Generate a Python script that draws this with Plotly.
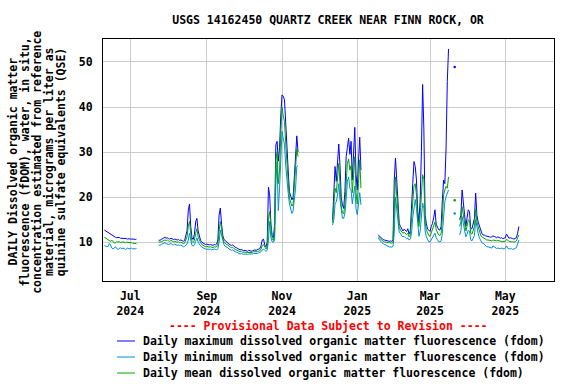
import plotly.graph_objects as go
import pandas as pd

# ---------------- data (daily values, fDOM, QSE) ----------------
BASE_DATE = "2024-06-10"   # day index 0

seg1_start = 0
seg1_max = [12.7, 12.5, 12.3, 12.1, 11.9, 11.7, 11.5, 11.4, 11.2, 11.1, 11.0, 11.0, 11.1, 10.9,
            10.9, 10.8, 10.8, 10.9, 10.8, 10.7, 10.8, 10.7, 10.7, 10.8, 10.7, 10.6, 10.7]
seg1_mean = [11.1, 10.9, 10.6, 10.4, 10.3, 10.2, 10.5, 10.1, 9.8, 9.9, 10.1, 10.0, 10.2, 9.9,
             10.0, 10.1, 10.0, 9.9, 10.0, 10.0, 9.9, 10.0, 9.9, 9.8, 9.8, 9.7, 9.7]
seg1_min = [9.3, 9.2, 9.0, 9.1, 9.7, 9.4, 8.7, 8.5, 8.8, 9.0, 8.6, 8.4, 8.6, 8.8,
            8.5, 8.7, 8.6, 8.4, 8.6, 8.7, 8.5, 8.6, 8.7, 8.5, 8.6, 8.5, 8.6]

seg2_start = 44
seg2_max = [10.5, 10.4, 10.6, 10.8, 11.0, 11.1, 10.9, 11.0, 10.8, 10.7,
            10.9, 10.7, 10.6, 10.7, 10.6, 10.5, 10.6, 10.4, 10.5, 10.3,
            10.2, 10.4, 11.5, 12.5, 17.0, 18.5, 13.5, 11.0, 10.6, 11.8,
            14.5, 15.3, 12.5, 11.0, 10.4, 10.0, 9.8, 9.6, 9.5, 9.6,
            9.5, 9.4, 9.5, 9.4, 9.3, 9.5, 9.4, 9.6, 10.5, 16.0,
            17.6, 14.0, 11.5, 10.6, 10.3, 10.0, 9.9, 9.6, 9.4, 9.3,
            9.4, 9.1, 8.9, 8.8, 8.6, 8.5, 8.3, 8.4, 8.2, 8.1,
            8.2, 8.1, 8.0, 8.2, 8.1, 8.0, 8.1, 8.2, 8.3, 8.2,
            8.3, 8.4, 8.6, 9.2, 10.5, 10.7, 9.4, 9.0, 10.0, 22.2,
            20.5, 14.0, 11.5, 10.9, 14.0, 31.6, 32.4, 28.0, 31.0, 38.0,
            42.7, 42.4, 41.6, 36.5, 29.4, 26.0, 21.2, 20.5, 19.4, 20.0,
            25.0, 29.0, 33.6, 30.0]
seg2_mean = [10.1, 10.0, 10.1, 10.3, 10.5, 10.5, 10.4, 10.5, 10.3, 10.2,
             10.4, 10.2, 10.1, 10.2, 10.1, 10.0, 10.1, 9.9, 10.0, 9.8,
             9.7, 9.8, 10.5, 11.2, 13.5, 14.6, 12.0, 10.2, 9.9, 10.5,
             12.0, 13.0, 11.2, 10.3, 9.9, 9.5, 9.3, 9.1, 9.0, 9.1,
             9.0, 8.9, 9.0, 8.9, 8.8, 9.0, 8.9, 9.0, 9.6, 12.5,
             14.6, 13.0, 10.8, 10.0, 9.7, 9.5, 9.4, 9.1, 8.9, 8.8,
             8.9, 8.6, 8.4, 8.3, 8.1, 8.0, 7.9, 8.0, 7.8, 7.8,
             7.8, 7.7, 7.7, 7.8, 7.8, 7.7, 7.7, 7.9, 7.9, 7.8,
             7.9, 8.0, 8.1, 8.5, 9.3, 9.5, 8.8, 8.5, 9.0, 15.0,
             16.8, 12.5, 10.8, 10.4, 12.0, 28.0, 30.1, 23.0, 26.0, 34.0,
             40.0, 38.0, 36.8, 32.0, 26.5, 23.5, 19.8, 19.0, 18.0, 18.5,
             22.0, 26.0, 30.7, 29.0]
seg2_min = [9.4, 9.3, 9.5, 9.6, 9.8, 9.9, 9.7, 9.6, 9.5, 9.6,
            9.7, 9.5, 9.4, 9.6, 9.5, 9.3, 9.4, 9.3, 9.4, 9.2,
            9.0, 9.1, 9.3, 9.6, 10.5, 12.0, 10.5, 9.3, 9.2, 9.4,
            10.2, 11.0, 10.0, 9.5, 9.2, 8.9, 8.7, 8.6, 8.5, 8.4,
            8.5, 8.4, 8.5, 8.3, 8.4, 8.5, 8.4, 8.3, 8.6, 10.0,
            12.7, 11.5, 10.0, 9.4, 9.1, 9.0, 8.8, 8.5, 8.3, 8.2,
            8.3, 8.0, 7.9, 7.8, 7.7, 7.6, 7.4, 7.5, 7.4, 7.3,
            7.4, 7.3, 7.3, 7.4, 7.4, 7.3, 7.4, 7.5, 7.5, 7.4,
            7.5, 7.6, 7.7, 7.9, 8.3, 8.5, 8.2, 8.0, 8.2, 10.5,
            14.6, 11.0, 10.1, 10.0, 10.5, 23.0, 27.9, 17.0, 22.0, 30.0,
            34.6, 33.0, 31.6, 27.0, 23.0, 21.0, 18.5, 17.5, 16.4, 17.0,
            19.0, 22.0, 26.8, 27.0]

seg3_start = 185
seg3_max = [15.0, 20.5, 26.8, 23.5, 27.5, 31.8, 27.0, 20.0, 18.3, 17.5, 21.2, 29.0,
            31.0, 33.1, 29.5, 32.4, 23.8, 30.0, 35.5, 25.0, 21.6, 28.0, 33.3, 26.0]
seg3_mean = [14.3, 17.5, 22.0, 21.0, 23.5, 27.5, 23.0, 18.0, 16.5, 16.3, 18.5, 24.0,
             27.5, 28.5, 26.0, 27.0, 21.0, 25.0, 29.0, 21.0, 18.5, 23.0, 28.3, 22.0]
seg3_min = [13.8, 15.0, 18.5, 19.0, 20.5, 23.0, 19.5, 16.5, 15.3, 15.3, 16.5, 19.5,
            23.5, 24.5, 22.0, 21.5, 18.5, 20.5, 22.5, 17.5, 16.1, 18.5, 21.0, 18.3]

seg4_start = 222
seg4_max = [11.6, 11.3, 11.0, 10.8, 10.6, 10.5, 10.4, 10.3, 10.3, 10.2, 10.3, 10.2, 10.5,
            23.8, 28.7, 24.0, 17.0, 14.2, 13.5, 12.8, 12.5, 12.9, 12.6, 12.4, 13.0, 11.8,
            12.5, 20.1, 23.1, 27.9, 26.8, 23.8, 17.0, 14.5, 19.4, 30.1, 45.0, 35.0, 16.0,
            14.2, 12.9, 12.7, 12.4, 13.5, 14.2, 15.5, 17.2, 14.0, 13.2, 12.8, 12.7, 13.5,
            19.4, 23.8, 23.0, 30.9, 45.7, 52.9]
seg4_mean = [11.2, 10.9, 10.6, 10.4, 10.2, 10.1, 10.0, 10.0, 9.9, 9.9, 9.9, 9.8, 10.0,
             17.0, 24.5, 20.5, 15.5, 13.3, 12.7, 12.2, 12.0, 12.2, 11.9, 11.7, 12.0, 11.2,
             11.6, 15.5, 19.0, 22.5, 23.0, 20.5, 15.5, 13.5, 16.0, 22.0, 25.0, 24.0, 14.5,
             12.8, 11.9, 11.5, 11.3, 12.2, 12.8, 13.5, 14.5, 12.8, 12.0, 11.6, 11.5, 12.0,
             15.5, 20.5, 21.6, 22.4, 22.0, 24.5]
seg4_min = [10.9, 10.5, 10.1, 9.9, 9.7, 9.5, 9.4, 9.2, 9.1, 9.0, 9.0, 8.9, 9.1,
            12.0, 20.0, 17.0, 14.0, 12.2, 12.0, 11.4, 11.2, 11.3, 11.0, 10.8, 10.9, 10.5,
            10.7, 12.0, 15.5, 18.0, 19.5, 17.5, 13.5, 11.3, 12.5, 16.0, 18.7, 17.5, 12.5,
            11.2, 10.5, 10.1, 10.1, 10.6, 11.0, 11.5, 12.0, 11.0, 10.4, 10.1, 10.1, 10.3,
            12.0, 16.0, 19.0, 20.1, 21.0, 21.6]

seg5_start = 284          # single isolated daily value
seg5_max = [48.9]
seg5_mean = [19.3]
seg5_min = [16.4]

seg6_start = 288
seg6_max = [15.0, 16.0, 21.6, 18.0, 16.1, 13.5, 15.0, 17.2, 16.8, 13.0, 13.0, 14.0, 15.3,
            20.9, 16.0, 14.5, 13.5, 12.4, 12.0, 11.6, 11.6, 11.4, 11.4, 11.3, 11.2, 11.1,
            11.2, 11.4, 11.3, 11.1, 11.0, 11.2, 11.1, 10.9, 11.0, 10.8, 10.9, 11.0, 11.8,
            11.4, 10.9, 11.0, 10.8, 10.8, 10.7, 10.9, 11.0, 12.0, 13.5]
seg6_mean = [13.5, 14.5, 17.9, 16.0, 15.0, 12.5, 13.5, 15.0, 14.8, 12.0, 11.8, 12.5, 13.5,
             17.4, 14.5, 13.5, 12.5, 11.6, 11.2, 11.0, 10.8, 10.6, 10.5, 10.5, 10.4, 10.4,
             10.3, 10.5, 10.4, 10.3, 10.3, 10.4, 10.3, 10.2, 10.2, 10.1, 10.2, 10.2, 10.6,
             10.5, 10.2, 10.1, 10.1, 10.1, 10.0, 10.1, 10.3, 11.0, 11.6]
seg6_min = [11.6, 12.5, 15.7, 14.0, 13.0, 11.2, 11.8, 12.7, 12.5, 10.5, 10.3, 10.8, 11.5,
            15.0, 13.0, 12.0, 11.0, 10.2, 9.9, 9.8, 9.5, 9.2, 9.0, 9.0, 8.9, 8.8,
            8.7, 9.2, 9.0, 8.6, 8.6, 8.7, 8.6, 8.6, 8.7, 8.6, 8.5, 8.7, 9.2,
            8.7, 8.6, 8.5, 8.6, 8.4, 8.5, 8.6, 8.8, 9.6, 10.5]

series_names = ["Daily maximum dissolved organic matter fluorescence (fdom)",
                "Daily minimum dissolved organic matter fluorescence (fdom)",
                "Daily mean dissolved organic matter fluorescence (fdom)"]
series_colors = ["#0000FF", "#008EDB", "#00A400"]

tick_dates = ["2024-07-01", "2024-09-01", "2024-11-01", "2025-01-01", "2025-03-01", "2025-05-01"]
tick_text = ["Jul<br>2024", "Sep<br>2024", "Nov<br>2024", "Jan<br>2025", "Mar<br>2025", "May<br>2025"]
y_ticks = [10, 20, 30, 40, 50]

title_text = "USGS 14162450 QUARTZ CREEK NEAR FINN ROCK, OR"
ytitle_lines = ["DAILY Dissolved organic matter",
                "fluorescence (fDOM), water, in situ,",
                "concentration estimated from reference",
                "material, micrograms per liter as",
                "quinine sulfate equivalents (QSE)"]
provisional_text = "---- Provisional Data Subject to Revision ----"

# ---------------- assemble daily series with gaps ----------------
N_DAYS = 337
dates = pd.date_range(BASE_DATE, periods=N_DAYS, freq="D")


def build(segments):
    arr = [None] * N_DAYS
    for start, vals in segments:
        for i, v in enumerate(vals):
            arr[start + i] = v
    return arr


s_max = build([(seg1_start, seg1_max), (seg2_start, seg2_max), (seg3_start, seg3_max),
               (seg4_start, seg4_max), (seg5_start, seg5_max), (seg6_start, seg6_max)])
s_min = build([(seg1_start, seg1_min), (seg2_start, seg2_min), (seg3_start, seg3_min),
               (seg4_start, seg4_min), (seg5_start, seg5_min), (seg6_start, seg6_min)])
s_mean = build([(seg1_start, seg1_mean), (seg2_start, seg2_mean), (seg3_start, seg3_mean),
                (seg4_start, seg4_mean), (seg5_start, seg5_mean), (seg6_start, seg6_mean)])

FONT = dict(family="DejaVu Sans Mono", size=11.5, color="black", weight="bold")

fig = go.Figure()
for name, vals, col in zip(series_names, [s_max, s_min, s_mean], series_colors):
    fig.add_trace(go.Scatter(x=dates, y=vals, mode="lines", name=name,
                             line=dict(color=col, width=1), connectgaps=False,
                             showlegend=False))
    # isolated single-day values (no neighbours) drawn as dots
    iso_x, iso_y = [], []
    for i, v in enumerate(vals):
        if v is None:
            continue
        prev_none = i == 0 or vals[i - 1] is None
        next_none = i == N_DAYS - 1 or vals[i + 1] is None
        if prev_none and next_none:
            iso_x.append(dates[i])
            iso_y.append(v)
    fig.add_trace(go.Scatter(x=iso_x, y=iso_y, mode="markers", showlegend=False,
                             marker=dict(color=col, size=2.5), hoverinfo="skip"))

# plot geometry in pixels
L, R, T, B = 103, 554, 39, 281
W, H = 576, 384


def px_x(x):
    return (x - L) / (R - L)


def px_y(y):
    return (B - y) / (B - T)


annotations = []
# y-axis title (five rotated lines)
for xpix, line in zip([12.5, 24.6, 36.8, 49.0, 61.2], ytitle_lines):
    annotations.append(dict(text=line, x=px_x(xpix), y=px_y(162), xref="paper", yref="paper",
                            xanchor="center", yanchor="middle", textangle=-90,
                            showarrow=False, font=FONT))
# provisional notice
annotations.append(dict(text=provisional_text, x=px_x(328), y=px_y(326), xref="paper",
                        yref="paper", xanchor="center", yanchor="middle", showarrow=False,
                        font=dict(FONT, color="#FF0000")))
# legend (manual, to match row spacing)
shapes = []
for k, (name, col) in enumerate(zip(series_names, series_colors)):
    ypix = 341 + 16 * k
    shapes.append(dict(type="line", xref="paper", yref="paper", x0=px_x(117), x1=px_x(135),
                       y0=px_y(ypix), y1=px_y(ypix), line=dict(color=col, width=1)))
    annotations.append(dict(text=name, x=px_x(140.5), y=px_y(ypix), xref="paper", yref="paper",
                            xanchor="left", yanchor="middle", showarrow=False, font=FONT))

fig.update_layout(
    width=W, height=H,
    margin=dict(l=L, r=W - R, t=T, b=H - B, pad=0),
    paper_bgcolor="white", plot_bgcolor="white",
    title=dict(text=title_text, x=328 / W, xref="container",
               y=1 - 19.5 / H, yref="container", xanchor="center", yanchor="middle",
               font=FONT),
    xaxis=dict(type="date", range=["2024-06-08 21:00", "2025-06-09 12:00"],
               tickvals=tick_dates, ticktext=tick_text, tickfont=FONT,
               showgrid=True, gridcolor="#CCCCCC", gridwidth=1, zeroline=False,
               showline=True, linecolor="black", linewidth=1, mirror=True,
               ticks="", ticklabelstandoff=4),
    yaxis=dict(range=[1.4, 55.1], tickvals=y_ticks, tickfont=FONT,
               showgrid=True, gridcolor="#CCCCCC", gridwidth=1, zeroline=False,
               showline=True, linecolor="black", linewidth=1, mirror=True,
               ticks="", ticklabelstandoff=7),
    annotations=annotations, shapes=shapes, showlegend=False,
)

fig.write_html("out.html", config={"displayModeBar": False},
               post_script="document.body.style.margin='0';document.body.style.overflow='hidden';")
